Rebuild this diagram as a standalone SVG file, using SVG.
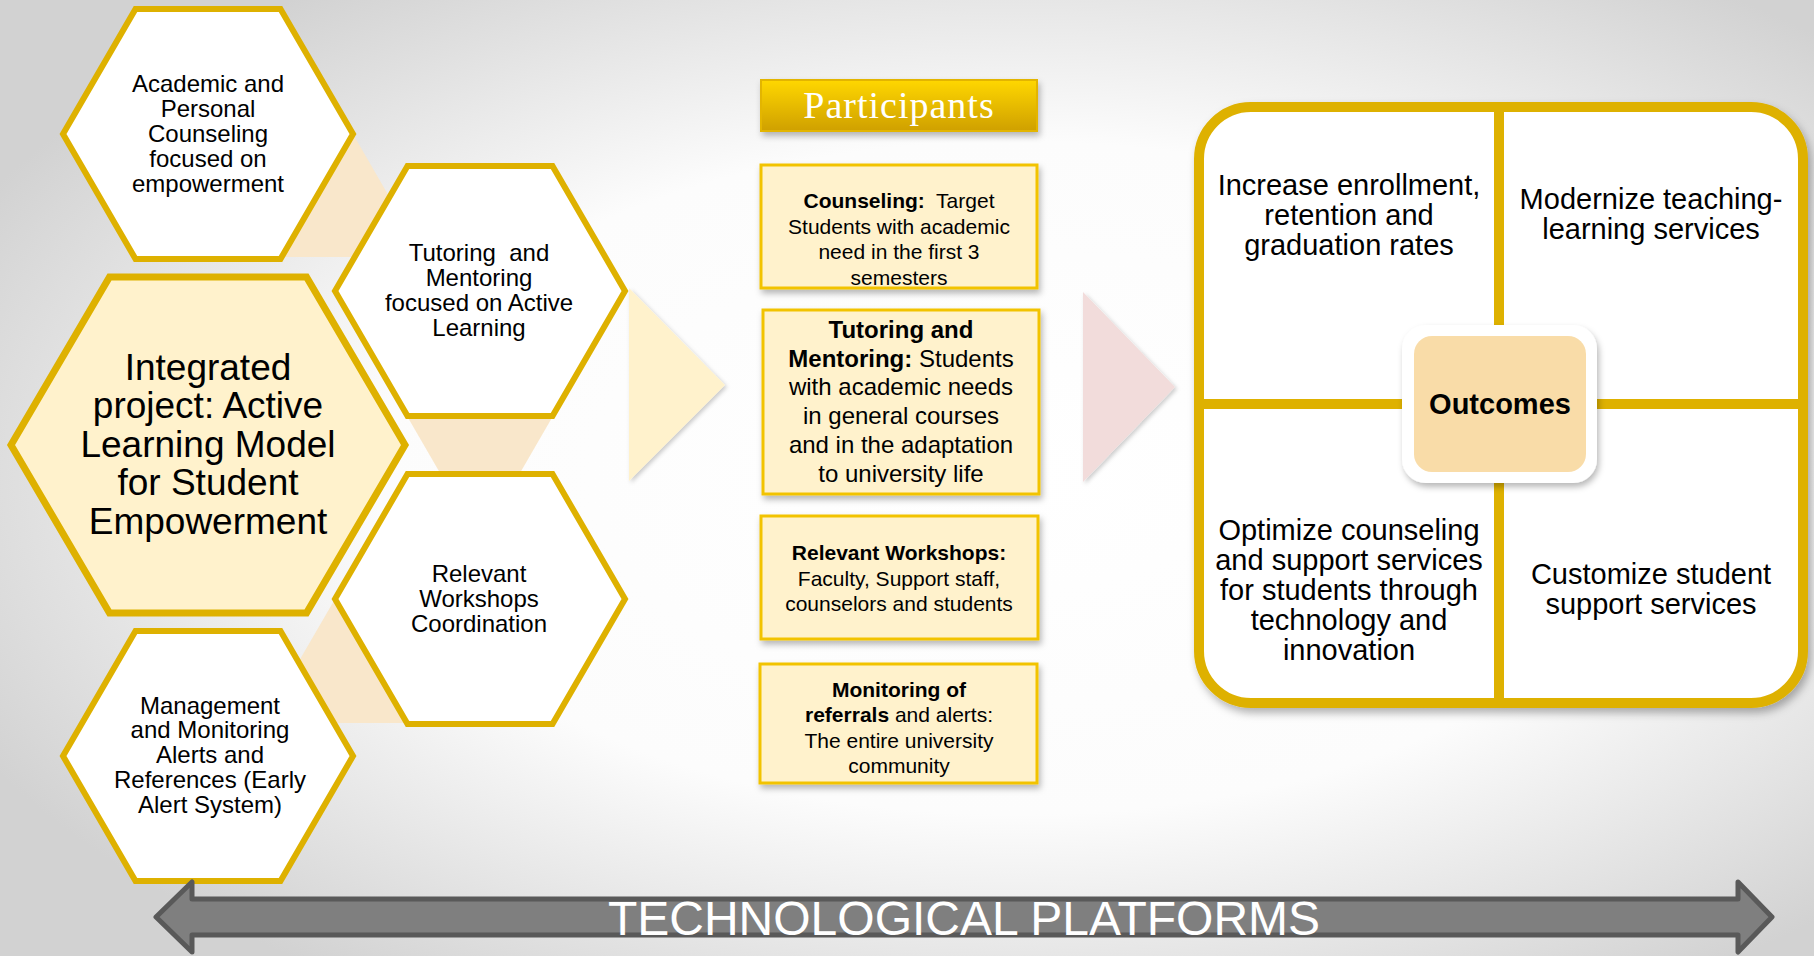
<svg xmlns="http://www.w3.org/2000/svg" width="1814" height="956" viewBox="0 0 1814 956">
<defs>
<radialGradient id="bg" cx="56%" cy="50%" r="64%">
<stop offset="0" stop-color="#FFFFFF"/>
<stop offset="0.55" stop-color="#FCFCFC"/>
<stop offset="1" stop-color="#D2D2D2"/>
</radialGradient>
<linearGradient id="gold" x1="0" y1="0" x2="0" y2="1">
<stop offset="0" stop-color="#FFD700"/>
<stop offset="1" stop-color="#CFA000"/>
</linearGradient>
<filter id="sh" x="-10%" y="-10%" width="130%" height="140%">
<feDropShadow dx="2" dy="4" stdDeviation="3" flood-color="#000" flood-opacity="0.28"/>
</filter>
<filter id="sh2" x="-10%" y="-10%" width="130%" height="130%">
<feDropShadow dx="3" dy="5" stdDeviation="4" flood-color="#000" flood-opacity="0.3"/>
</filter>
<filter id="shs" x="-10%" y="-10%" width="130%" height="130%">
<feDropShadow dx="2" dy="2" stdDeviation="2" flood-color="#000" flood-opacity="0.2"/>
</filter>
</defs>
<style>
.hex{fill:#FFFFFF;stroke:#DEB100;stroke-width:6;stroke-linejoin:miter}
.hexbig{fill:#FFF2CC;stroke:#DEB100;stroke-width:7}
.peach{fill:#F9E7CB}
.t{font-family:"Liberation Sans",Arial,sans-serif;fill:#000;text-anchor:middle}
.h24{font-size:24px}
.h37{font-size:37px}
.box{fill:#FFF2CC;stroke:#F2C300;stroke-width:3}
.b21{font-size:21px}
.b24{font-size:24px}
.q{font-size:29px}
.bold{font-weight:bold}
.pre{white-space:pre}
</style>
<rect x="0" y="0" width="1814" height="956" fill="url(#bg)"/>

<g id="connectors">
<polygon class="peach" points="353,134 424,257 280,257"/>
<polygon class="peach" points="407,416 553,416 480,542"/>
<polygon class="peach" points="335,599 263,723 420,723"/>
<polygon id="arrow-participants" points="629,288 725,385 629,481" fill="#FFF2CC" filter="url(#shs)"/>
<polygon id="arrow-outcomes" points="1083,292 1175,387 1083,482" fill="#F2DCDB" filter="url(#shs)"/>
</g>

<g id="hex-counseling">
<polygon class="hex" points="63,134 135.5,9 280.5,9 353,134 280.5,259 135.5,259"/>
<text class="t h24" x="208"><tspan x="208" y="92">Academic and</tspan><tspan x="208" y="117">Personal</tspan><tspan x="208" y="142">Counseling</tspan><tspan x="208" y="167">focused on</tspan><tspan x="208" y="192">empowerment</tspan></text>
</g>

<g id="hex-tutoring">
<polygon class="hex" points="335,291 407.5,166 552.5,166 625,291 552.5,416 407.5,416"/>
<text class="t h24 pre" x="479"><tspan x="479" y="261">Tutoring  and</tspan><tspan x="479" y="286">Mentoring</tspan><tspan x="479" y="311">focused on Active</tspan><tspan x="479" y="336">Learning</tspan></text>
</g>

<g id="hex-integrated">
<polygon class="hexbig" points="11,445 109.5,277 306.5,277 405,445 306.5,613 109.5,613"/>
<text class="t h37" x="208"><tspan x="208" y="380">Integrated</tspan><tspan x="208" y="418">project: Active</tspan><tspan x="208" y="457">Learning Model</tspan><tspan x="208" y="495">for Student</tspan><tspan x="208" y="534">Empowerment</tspan></text>
</g>

<g id="hex-workshops">
<polygon class="hex" points="335,599 407.5,474 552.5,474 625,599 552.5,724 407.5,724"/>
<text class="t h24" x="479"><tspan x="479" y="582">Relevant</tspan><tspan x="479" y="607">Workshops</tspan><tspan x="479" y="632">Coordination</tspan></text>
</g>

<g id="hex-management">
<polygon class="hex" points="63,756 135.5,631 280.5,631 353,756 280.5,881 135.5,881"/>
<text class="t h24" x="210"><tspan x="210" y="714">Management</tspan><tspan x="210" y="738">and Monitoring</tspan><tspan x="210" y="763">Alerts and</tspan><tspan x="210" y="788">References (Early</tspan><tspan x="210" y="813">Alert System)</tspan></text>
</g>

<g id="participants-header">
<rect x="761" y="80" width="276" height="51" fill="url(#gold)" stroke="#E3B500" stroke-width="2" filter="url(#sh)"/>
<text x="899" y="118" font-family="'Liberation Serif','DejaVu Serif',serif" font-size="38" letter-spacing="1" fill="#FFFFFF" text-anchor="middle">Participants</text>
</g>

<g id="box-counseling">
<rect class="box" x="761" y="165" width="276" height="123" filter="url(#sh)"/>
<text class="t b21 pre"><tspan x="899" y="208"><tspan class="bold">Counseling:</tspan>  Target</tspan><tspan x="899" y="234">Students with academic</tspan><tspan x="899" y="259">need in the first 3</tspan><tspan x="899" y="285">semesters</tspan></text>
</g>

<g id="box-tutoring">
<rect class="box" x="763" y="310" width="276" height="184" filter="url(#sh)"/>
<text class="t b24"><tspan x="901" y="338" class="bold">Tutoring and</tspan><tspan x="901" y="367"><tspan class="bold">Mentoring:</tspan> Students</tspan><tspan x="901" y="395">with academic needs</tspan><tspan x="901" y="424">in general courses</tspan><tspan x="901" y="453">and in the adaptation</tspan><tspan x="901" y="482">to university life</tspan></text>
</g>

<g id="box-workshops">
<rect class="box" x="761" y="516" width="277" height="123" filter="url(#sh)"/>
<text class="t b21"><tspan x="899" y="560" class="bold">Relevant Workshops:</tspan><tspan x="899" y="586">Faculty, Support staff,</tspan><tspan x="899" y="611">counselors and students</tspan></text>
</g>

<g id="box-monitoring">
<rect class="box" x="760" y="664" width="277" height="119" filter="url(#sh)"/>
<text class="t b21"><tspan x="899" y="697" class="bold">Monitoring of</tspan><tspan x="899" y="722"><tspan class="bold">referrals</tspan> and alerts:</tspan><tspan x="899" y="748">The entire university</tspan><tspan x="899" y="773">community</tspan></text>
</g>

<g id="outcomes-panel">
<rect x="1199" y="107" width="604" height="596" rx="52" fill="#FFFFFF" stroke="#DEB100" stroke-width="10" filter="url(#sh2)"/>
<line x1="1499" y1="107" x2="1499" y2="703" stroke="#DEB100" stroke-width="10"/>
<line x1="1199" y1="404" x2="1803" y2="404" stroke="#DEB100" stroke-width="10"/>
</g>

<g id="outcome-enrollment">
<text class="t q"><tspan x="1349" y="195">Increase enrollment,</tspan><tspan x="1349" y="225">retention and</tspan><tspan x="1349" y="255">graduation rates</tspan></text>
</g>
<g id="outcome-modernize">
<text class="t q"><tspan x="1651" y="209">Modernize teaching-</tspan><tspan x="1651" y="239">learning services</tspan></text>
</g>
<g id="outcome-optimize">
<text class="t q"><tspan x="1349" y="540">Optimize counseling</tspan><tspan x="1349" y="570">and support services</tspan><tspan x="1349" y="600">for students through</tspan><tspan x="1349" y="630">technology and</tspan><tspan x="1349" y="660">innovation</tspan></text>
</g>
<g id="outcome-customize">
<text class="t q"><tspan x="1651" y="584">Customize student</tspan><tspan x="1651" y="614">support services</tspan></text>
</g>

<g id="outcomes-center">
<rect x="1402" y="325" width="195" height="158" rx="24" fill="#FFFFFF" filter="url(#sh)"/>
<rect x="1414" y="336" width="172" height="136" rx="18" fill="#F9DCA8"/>
<text class="t q bold" x="1500" y="414">Outcomes</text>
</g>

<g id="platforms">
<polygon points="156,917 192,882 192,899 1738,899 1738,882 1772,917 1738,952 1738,935 192,935 192,952" fill="#7F7F7F" stroke="#595959" stroke-width="5" stroke-linejoin="round"/>
<text x="964" y="935" font-family="'Liberation Sans',Arial,sans-serif" font-size="48" fill="#FFFFFF" text-anchor="middle">TECHNOLOGICAL PLATFORMS</text>
</g>
</svg>
